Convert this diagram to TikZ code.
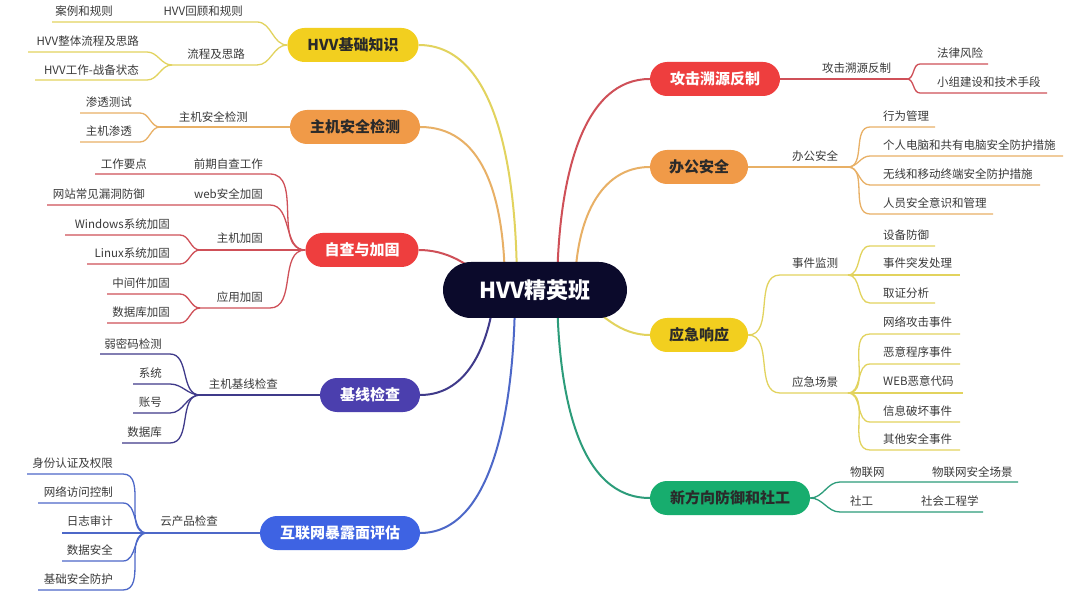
\documentclass[tikz,border=0pt]{standalone}
\usepackage{fontspec}
\setmainfont{Noto Sans CJK SC}
\definecolor{rootc}{HTML}{0B0A2B}
\definecolor{ylN}{HTML}{F2CF1F}
\definecolor{ylL}{HTML}{E2D35E}
\definecolor{orN}{HTML}{F09A48}
\definecolor{orL}{HTML}{E8B066}
\definecolor{rdN}{HTML}{EE3E3E}
\definecolor{rdL}{HTML}{CF5058}
\definecolor{puN}{HTML}{4B3FAE}
\definecolor{puL}{HTML}{3F3A8A}
\definecolor{blN}{HTML}{3E63E3}
\definecolor{blL}{HTML}{4D68C8}
\definecolor{grN}{HTML}{17AD6E}
\definecolor{grL}{HTML}{2C9C7A}
\definecolor{labtext}{HTML}{3A3A3A}
\definecolor{darktext}{HTML}{2A2A2A}
\pgfdeclarelayer{bg}
\pgfsetlayers{bg,main}
\begin{document}
\begin{tikzpicture}[x=1pt,y=-1pt,
  lab/.style={inner sep=0pt, font=\fontsize{11.5}{14}\selectfont, text=labtext},
  mainbox/.style={rounded corners=17pt, minimum height=34pt, inner sep=0pt, font=\fontsize{15}{18}\selectfont\bfseries},
  trunk/.style={line width=2pt},
  twig/.style={line width=1.3pt},
  lk/.style={out=180,in=0},
  rk/.style={out=0,in=180}]
\useasboundingbox (0,0) rectangle (1080,596);

% root and main nodes
\node[rounded corners=28pt, minimum width=184pt, minimum height=56pt, inner sep=0pt, fill=rootc, text=white, font=\fontsize{22}{26}\selectfont\bfseries] (root) at (535,290) {HVV精英班};
\node[mainbox, fill=ylN, text=darktext, minimum width=131pt] (A1) at (353,45) {HVV基础知识};
\node[mainbox, fill=orN, text=darktext, minimum width=130pt] (A2) at (355,127) {主机安全检测};
\node[mainbox, fill=rdN, text=white, minimum width=113pt] (A3) at (362,250) {自查与加固};
\node[mainbox, fill=puN, text=white, minimum width=100pt] (A4) at (370,395) {基线检查};
\node[mainbox, fill=blN, text=white, minimum width=160pt] (A5) at (340,533) {互联网暴露面评估};
\node[mainbox, fill=rdN, text=white, minimum width=130pt] (B1) at (715,79) {攻击溯源反制};
\node[mainbox, fill=orN, text=darktext, minimum width=98pt] (B2) at (699,167) {办公安全};
\node[mainbox, fill=ylN, text=darktext, minimum width=98pt] (B3) at (699,335) {应急响应};
\node[mainbox, fill=grN, text=darktext, minimum width=160pt] (B4) at (730,498) {新方向防御和社工};

% left labels
\node[lab, anchor=east] (a1) at (243,11) {HVV回顾和规则};
\node[lab, anchor=east] (a11) at (113,11) {案例和规则};
\node[lab, anchor=east] (a2) at (245,54) {流程及思路};
\node[lab, anchor=east] (a21) at (139,41) {HVV整体流程及思路};
\node[lab, anchor=east] (a22) at (139,70) {HVV工作-战备状态};
\node[lab, anchor=east] (b1) at (248,117) {主机安全检测};
\node[lab, anchor=east] (b11) at (132,102) {渗透测试};
\node[lab, anchor=east] (b12) at (132,131) {主机渗透};
\node[lab, anchor=east] (c1) at (263,164) {前期自查工作};
\node[lab, anchor=east] (c11) at (147,164) {工作要点};
\node[lab, anchor=east] (c2) at (263,194) {web安全加固};
\node[lab, anchor=east] (c21) at (145,194) {网站常见漏洞防御};
\node[lab, anchor=east] (c3) at (263,238) {主机加固};
\node[lab, anchor=east] (c31) at (170,224) {Windows系统加固};
\node[lab, anchor=east] (c32) at (170,253) {Linux系统加固};
\node[lab, anchor=east] (c4) at (263,297) {应用加固};
\node[lab, anchor=east] (c41) at (170,283) {中间件加固};
\node[lab, anchor=east] (c42) at (170,312) {数据库加固};
\node[lab, anchor=east] (d1) at (278,384) {主机基线检查};
\node[lab, anchor=east] (d11) at (162,344) {弱密码检测};
\node[lab, anchor=east] (d12) at (162,373) {系统};
\node[lab, anchor=east] (d13) at (162,402) {账号};
\node[lab, anchor=east] (d14) at (162,432) {数据库};
\node[lab, anchor=east] (e1) at (218,521) {云产品检查};
\node[lab, anchor=east] (e11) at (113,463) {身份认证及权限};
\node[lab, anchor=east] (e12) at (113,492) {网络访问控制};
\node[lab, anchor=east] (e13) at (113,521) {日志审计};
\node[lab, anchor=east] (e14) at (113,550) {数据安全};
\node[lab, anchor=east] (e15) at (113,579) {基础安全防护};

% right labels
\node[lab, anchor=west] (f1) at (822,68) {攻击溯源反制};
\node[lab, anchor=west] (f11) at (937,53) {法律风险};
\node[lab, anchor=west] (f12) at (937,82) {小组建设和技术手段};
\node[lab, anchor=west] (g1) at (792,156) {办公安全};
\node[lab, anchor=west] (g11) at (883,116) {行为管理};
\node[lab, anchor=west] (g12) at (883,145) {个人电脑和共有电脑安全防护措施};
\node[lab, anchor=west] (g13) at (883,174) {无线和移动终端安全防护措施};
\node[lab, anchor=west] (g14) at (883,203) {人员安全意识和管理};
\node[lab, anchor=west] (h1) at (792,263) {事件监测};
\node[lab, anchor=west] (h11) at (883,235) {设备防御};
\node[lab, anchor=west] (h12) at (883,263) {事件突发处理};
\node[lab, anchor=west] (h13) at (883,293) {取证分析};
\node[lab, anchor=west] (h2) at (792,382) {应急场景};
\node[lab, anchor=west] (h21) at (883,322) {网络攻击事件};
\node[lab, anchor=west] (h22) at (883,352) {恶意程序事件};
\node[lab, anchor=west] (h23) at (883,381) {WEB恶意代码};
\node[lab, anchor=west] (h24) at (883,411) {信息破坏事件};
\node[lab, anchor=west] (h25) at (883,439) {其他安全事件};
\node[lab, anchor=west] (k1) at (850,472) {物联网};
\node[lab, anchor=west] (k11) at (932,472) {物联网安全场景};
\node[lab, anchor=west] (k2) at (850,501) {社工};
\node[lab, anchor=west] (k21) at (921,501) {社会工程学};

% line end coordinates
\coordinate (a1r) at (257,22); \coordinate (a1l) at (52,22);
\coordinate (a2r) at (257,65); \coordinate (a2l) at (172,65);
\coordinate (a21r) at (147,52); \coordinate (a21l) at (28,52);
\coordinate (a22r) at (147,80); \coordinate (a22l) at (35,80);
\coordinate (b1l) at (160,127);
\coordinate (b11r) at (140,113); \coordinate (b11l) at (80,113);
\coordinate (b12r) at (140,142); \coordinate (b12l) at (80,142);
\coordinate (c1r) at (270,174); \coordinate (c1l) at (95,174);
\coordinate (c2r) at (270,205); \coordinate (c2l) at (47,205);
\coordinate (c3l) at (200,250);
\coordinate (c31r) at (180,235); \coordinate (c31l) at (65,235);
\coordinate (c32r) at (180,264); \coordinate (c32l) at (87,264);
\coordinate (c4r) at (270,308); \coordinate (c4l) at (200,308);
\coordinate (c41r) at (180,294); \coordinate (c41l) at (107,294);
\coordinate (c42r) at (180,323); \coordinate (c42l) at (107,323);
\coordinate (d1l) at (200,395);
\coordinate (d11r) at (170,354); \coordinate (d11l) at (100,354);
\coordinate (d12r) at (170,384); \coordinate (d12l) at (133,384);
\coordinate (d13r) at (170,413); \coordinate (d13l) at (133,413);
\coordinate (d14r) at (170,443); \coordinate (d14l) at (122,443);
\coordinate (e1l) at (147,533);
\coordinate (e11r) at (123,474); \coordinate (e11l) at (27,474);
\coordinate (e12r) at (123,503); \coordinate (e12l) at (38,503);
\coordinate (e13l) at (62,533);
\coordinate (e14r) at (123,561); \coordinate (e14l) at (62,561);
\coordinate (e15r) at (123,590); \coordinate (e15l) at (38,590);
\coordinate (f1r) at (907,79);
\coordinate (f11l) at (920,64); \coordinate (f11r) at (988,64);
\coordinate (f12l) at (920,93); \coordinate (f12r) at (1047,93);
\coordinate (g1r) at (848,167);
\coordinate (g11l) at (870,127); \coordinate (g11r) at (935,127);
\coordinate (g12l) at (870,156); \coordinate (g12r) at (1063,156);
\coordinate (g13l) at (870,185); \coordinate (g13r) at (1040,185);
\coordinate (g14l) at (870,214); \coordinate (g14r) at (993,214);
\coordinate (h1l) at (780,275); \coordinate (h1r) at (848,275);
\coordinate (h11l) at (870,246); \coordinate (h11r) at (935,246);
\coordinate (h12r) at (960,275);
\coordinate (h13l) at (870,303); \coordinate (h13r) at (935,303);
\coordinate (h2l) at (780,393); \coordinate (h2r) at (848,393);
\coordinate (h21l) at (870,334); \coordinate (h21r) at (960,334);
\coordinate (h22l) at (870,364); \coordinate (h22r) at (960,364);
\coordinate (h23r) at (963,393);
\coordinate (h24l) at (870,422); \coordinate (h24r) at (960,422);
\coordinate (h25l) at (870,450); \coordinate (h25r) at (960,450);
\coordinate (k1l) at (840,482); \coordinate (k1r) at (1018,482);
\coordinate (k2l) at (840,512); \coordinate (k2r) at (983,512);

\begin{pgfonlayer}{bg}
\fill[white] (0,0) rectangle (1080,596);
% trunks
\draw[trunk, ylL] (A1.east) .. controls (490,45) and (517,150) .. ([xshift=-18pt]root.center);
\draw[trunk, orL] (A2.east) .. controls (480,127) and (505,190) .. ([xshift=-30pt]root.center);
\draw[trunk, rdL] (A3.east) .. controls (445,250) and (470,262) .. ([xshift=-40pt]root.center);
\draw[trunk, puL] (A4.east) .. controls (470,395) and (490,340) .. ([xshift=-40pt]root.center);
\draw[trunk, blL] (A5.east) .. controls (495,533) and (515,400) .. ([xshift=-20pt]root.center);
\draw[trunk, rdL] (B1.west) .. controls (585,79) and (558,170) .. ([xshift=22pt]root.center);
\draw[trunk, orL] (B2.west) .. controls (600,167) and (575,220) .. ([xshift=40pt]root.center);
\draw[trunk, ylL] (B3.west) .. controls (620,335) and (600,315) .. ([xshift=40pt]root.center);
\draw[trunk, grL] (B4.west) .. controls (580,498) and (558,400) .. ([xshift=22pt]root.center);

% yellow left
\draw[twig, ylL] (A1.west) to[lk] (a1r) -- (a1l);
\draw[twig, ylL] (A1.west) to[lk] (a2r) -- (a2l);
\draw[twig, ylL] (a2l) to[lk] (a21r) -- (a21l);
\draw[twig, ylL] (a2l) to[lk] (a22r) -- (a22l);
% orange left
\draw[twig, orL] (A2.west) -- (b1l);
\draw[twig, orL] (b1l) to[lk] (b11r) -- (b11l);
\draw[twig, orL] (b1l) to[lk] (b12r) -- (b12l);
% red left
\draw[twig, rdL] (A3.west) to[lk] (c1r) -- (c1l);
\draw[twig, rdL] (A3.west) to[lk] (c2r) -- (c2l);
\draw[twig, rdL] (A3.west) -- (c3l);
\draw[twig, rdL] (c3l) to[lk] (c31r) -- (c31l);
\draw[twig, rdL] (c3l) to[lk] (c32r) -- (c32l);
\draw[twig, rdL] (A3.west) to[lk] (c4r) -- (c4l);
\draw[twig, rdL] (c4l) to[lk] (c41r) -- (c41l);
\draw[twig, rdL] (c4l) to[lk] (c42r) -- (c42l);
% purple left
\draw[twig, puL] (A4.west) -- (d1l);
\draw[twig, puL] (d1l) to[lk] (d11r) -- (d11l);
\draw[twig, puL] (d1l) to[lk] (d12r) -- (d12l);
\draw[twig, puL] (d1l) to[lk] (d13r) -- (d13l);
\draw[twig, puL] (d1l) to[lk] (d14r) -- (d14l);
% blue left
\draw[twig, blL] (A5.west) -- (e1l);
\draw[twig, blL] (e1l) to[lk] (e11r) -- (e11l);
\draw[twig, blL] (e1l) to[lk] (e12r) -- (e12l);
\draw[twig, blL] (e1l) -- (e13l);
\draw[twig, blL] (e1l) to[lk] (e14r) -- (e14l);
\draw[twig, blL] (e1l) to[lk] (e15r) -- (e15l);
% red right
\draw[twig, rdL] (B1.east) -- (f1r);
\draw[twig, rdL] (f1r) to[rk] (f11l) -- (f11r);
\draw[twig, rdL] (f1r) to[rk] (f12l) -- (f12r);
% orange right
\draw[twig, orL] (B2.east) -- (g1r);
\draw[twig, orL] (g1r) to[rk] (g11l) -- (g11r);
\draw[twig, orL] (g1r) to[rk] (g12l) -- (g12r);
\draw[twig, orL] (g1r) to[rk] (g13l) -- (g13r);
\draw[twig, orL] (g1r) to[rk] (g14l) -- (g14r);
% yellow right
\draw[twig, ylL] (B3.east) to[rk] (h1l) -- (h1r);
\draw[twig, ylL] (B3.east) to[rk] (h2l) -- (h2r);
\draw[twig, ylL] (h1r) to[rk] (h11l) -- (h11r);
\draw[twig, ylL] (h1r) -- (h12r);
\draw[twig, ylL] (h1r) to[rk] (h13l) -- (h13r);
\draw[twig, ylL] (h2r) to[rk] (h21l) -- (h21r);
\draw[twig, ylL] (h2r) to[rk] (h22l) -- (h22r);
\draw[twig, ylL] (h2r) -- (h23r);
\draw[twig, ylL] (h2r) to[rk] (h24l) -- (h24r);
\draw[twig, ylL] (h2r) to[rk] (h25l) -- (h25r);
% green right
\draw[twig, grL] (B4.east) to[rk] (k1l) -- (k1r);
\draw[twig, grL] (B4.east) to[rk] (k2l) -- (k2r);
\end{pgfonlayer}
\end{tikzpicture}
\end{document}
